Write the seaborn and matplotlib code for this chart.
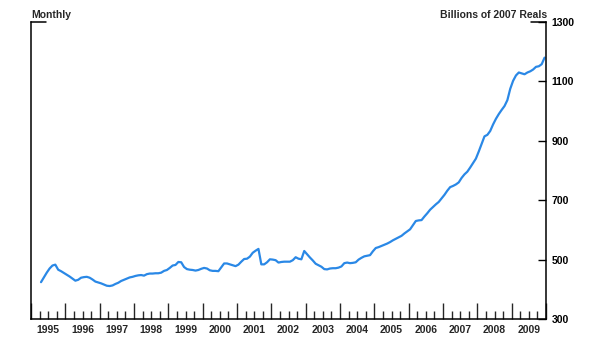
import numpy as np
import pandas as pd
import matplotlib
matplotlib.use("Agg")
import matplotlib.pyplot as plt
from matplotlib.lines import Line2D
import seaborn as sns

# Monthly values, Apr 1995 .. Dec 2009 (billions of 2007 reais)
start_year, start_month = 1995, 4
values = [
    # 1995 Apr-Dec
    424, 440, 456, 470, 480, 483, 466, 461, 455,
    # 1996
    449, 443, 436, 429, 432, 439, 441, 442, 439, 433, 426, 423,
    # 1997
    420, 416, 412, 411, 413, 418, 422, 428, 432, 436, 440, 442,
    # 1998
    445, 447, 448, 446, 451, 453, 453, 454, 454, 456, 462, 465,
    # 1999
    472, 480, 482, 492, 491, 475, 468, 466, 465, 463, 465, 469,
    # 2000
    472, 470, 464, 462, 462, 461, 474, 487, 487, 484, 481, 478,
    # 2001
    483, 493, 502, 503, 510, 523, 530, 536, 484, 484, 491, 501,
    # 2002
    500, 498, 490, 492, 493, 493, 493, 498, 508, 503, 501, 529,
    # 2003
    518, 507, 497, 486, 481, 476, 468, 467, 470, 471, 471, 473,
    # 2004
    477, 488, 490, 488, 489, 491, 500, 506, 511, 513, 515, 528,
    # 2005
    539, 542, 546, 550, 554, 559, 565, 570, 575, 580, 588, 595,
    # 2006
    602, 616, 630, 632, 633, 645, 656, 668, 677, 686, 694, 706,
    # 2007
    718, 732, 744, 748, 753, 760, 775, 787, 796, 810, 825, 840,
    # 2008
    864, 890, 915, 920, 933, 955, 974, 990, 1004, 1017, 1037, 1075,
    # 2009
    1102, 1120, 1130, 1127, 1124, 1130, 1134, 1140, 1149, 1151, 1158, 1180,
]
year_labels = [str(y) for y in range(1995, 2010)]
y_ticks = [300, 500, 700, 900, 1100, 1300]

n = len(values)
months = pd.date_range(f"{start_year}-{start_month:02d}-01", periods=n, freq="MS")
t = months.year + (months.month - 0.5) / 12.0
df = pd.DataFrame({"t": t, "value": values})

sns.set_style("white")
plt.rcParams["font.family"] = ["Liberation Sans", "DejaVu Sans"]

fig = plt.figure(figsize=(6.0, 3.56), dpi=100)
ax = fig.add_axes([31 / 600, 1 - 319 / 356, (546 - 31) / 600, (319 - 22) / 356])

sns.lineplot(data=df, x="t", y="value", ax=ax, color="#2a88e6", linewidth=1.6)

ax.set_xlim(1995, 2010)
ax.set_ylim(300, 1300)
ax.set_xlabel("")
ax.set_ylabel("")

for s in ["left", "bottom", "right"]:
    ax.spines[s].set_visible(True)
    ax.spines[s].set_color("black")
    ax.spines[s].set_linewidth(1.1)
ax.spines["top"].set_visible(False)

# top stubs
ax.add_line(Line2D([0, 0.03], [1, 1], transform=ax.transAxes, color="black", lw=1.1, clip_on=False))
ax.add_line(Line2D([0.97, 1], [1, 1], transform=ax.transAxes, color="black", lw=1.1, clip_on=False))

# y axis on the right
ax.yaxis.tick_right()
ax.set_yticks(y_ticks)
ax.set_yticklabels([str(v) for v in y_ticks])
ax.tick_params(axis="y", which="major", direction="in", length=6, width=1.0,
               labelsize=7.5, pad=4, left=False, right=True, colors="black")
for lbl in ax.get_yticklabels():
    lbl.set_fontweight("bold")

# x axis ticks: year boundaries (major, long) and quarters (minor)
years = np.arange(1995, 2011)
ax.set_xticks(years)
ax.set_xticklabels([])
quarters = [y + q / 4 for y in range(1995, 2010) for q in (1, 2, 3)]
ax.set_xticks(quarters, minor=True)
ax.tick_params(axis="x", which="major", direction="in", length=11.5, width=1.0, bottom=True, top=False)
ax.tick_params(axis="x", which="minor", direction="in", length=6, width=1.0, bottom=True, top=False)

sec = ax.secondary_xaxis("bottom")
sec.set_xticks([int(y) + 0.5 for y in year_labels])
sec.set_xticklabels(year_labels, fontsize=7.5, fontweight="bold")
sec.tick_params(length=0, pad=4)
sec.spines["bottom"].set_visible(False)

fig.text(31 / 600, 1 - 15 / 356, "Monthly", ha="left", va="center", fontsize=7.5, fontweight="bold")
fig.text(547 / 600, 1 - 15 / 356, "Billions of 2007 Reals", ha="right", va="center", fontsize=7.5, fontweight="bold")

fig.savefig("out.png", dpi=100)
